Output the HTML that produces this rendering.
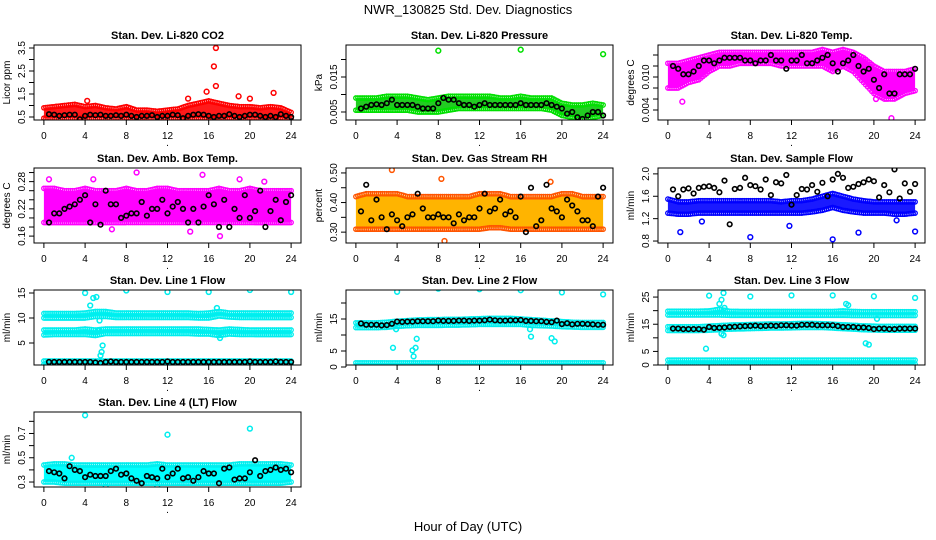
<!DOCTYPE html>
<html><head><meta charset="utf-8"><style>
html,body{margin:0;padding:0;background:#fff;}
svg{display:block;font-family:"Liberation Sans",sans-serif;}
</style></head><body>
<svg id="chart" width="936" height="540" viewBox="0 0 936 540">
<text x="468" y="14" text-anchor="middle" font-size="13">NWR_130825  Std. Dev. Diagnostics</text>
<text x="468" y="531" text-anchor="middle" font-size="13">Hour of Day (UTC)</text>
</svg>
<script>
const xTicks = [0,4,8,12,16,20,24];

const co2Lo = [0.45,0.45,0.45,0.45,0.45,0.45,0.45,0.45,0.45,0.45,0.45,0.45,0.45,0.45,0.45,0.45,0.45,0.45,0.45,0.45,0.45,0.45,0.45,0.45,0.45];
const co2Hi = [0.9,0.95,1.0,1.05,0.95,1.0,0.9,0.85,0.95,0.8,0.8,0.75,0.8,0.85,1.0,1.1,1.2,1.1,1.0,0.95,0.95,0.9,0.95,0.9,0.7];
const co2Black = [0.62,0.6,0.55,0.58,0.6,0.6,0.4,0.55,0.6,0.58,0.6,0.55,0.55,0.58,0.55,0.6,0.55,0.5,0.55,0.55,0.58,0.5,0.55,0.55,0.6,0.58,0.45,0.55,0.6,0.62,0.6,0.55,0.5,0.55,0.55,0.62,0.55,0.5,0.55,0.6,0.6,0.55,0.5,0.55,0.5,0.62,0.55,0.5];
const co2Out = [[16.5,2.7],[16.7,3.5],[16.7,1.85],[15.8,1.6],[20,1.3],[22.3,1.55],[18.9,1.4],[14,1.3],[4.2,1.2]];

const presLo = [0.0055,0.0055,0.0055,0.0055,0.0055,0.0055,0.005,0.005,0.005,0.0055,0.006,0.006,0.006,0.006,0.006,0.006,0.006,0.006,0.006,0.0055,0.004,0.0035,0.003,0.0035,0.004];
const presHi = [0.009,0.009,0.009,0.0095,0.0095,0.0095,0.009,0.0085,0.009,0.0095,0.0095,0.0095,0.0095,0.0095,0.009,0.009,0.0095,0.009,0.009,0.009,0.0075,0.007,0.007,0.0075,0.007];
const presBlack = [0.006,0.0065,0.007,0.0072,0.007,0.0075,0.0085,0.007,0.007,0.007,0.007,0.0065,0.006,0.006,0.006,0.0075,0.009,0.0085,0.0085,0.0075,0.007,0.007,0.0065,0.007,0.0075,0.007,0.007,0.007,0.007,0.007,0.007,0.0075,0.007,0.007,0.007,0.007,0.0075,0.007,0.0065,0.006,0.0045,0.005,0.0035,0.003,0.004,0.005,0.005,0.004];
const presOut = [[8,0.0225],[16,0.0228],[24,0.0215]];

const tempLo = [0.008,0.008,0.009,0.0095,0.011,0.012,0.012,0.0125,0.0125,0.0125,0.0125,0.012,0.012,0.012,0.012,0.012,0.011,0.012,0.011,0.009,0.007,0.006,0.006,0.007,0.0075];
const tempHi = [0.0125,0.0125,0.013,0.0135,0.014,0.0145,0.0145,0.0145,0.0145,0.0145,0.0145,0.0145,0.0145,0.0145,0.0145,0.015,0.0145,0.015,0.0145,0.0135,0.012,0.011,0.011,0.011,0.0115];
const tempBlack = [0.012,0.0115,0.0105,0.0105,0.011,0.012,0.013,0.013,0.0125,0.013,0.0135,0.0135,0.0135,0.0135,0.013,0.013,0.0125,0.013,0.013,0.014,0.013,0.013,0.0115,0.013,0.013,0.014,0.0125,0.0125,0.013,0.0135,0.014,0.0125,0.011,0.0125,0.013,0.014,0.012,0.011,0.0115,0.0095,0.008,0.0105,0.007,0.007,0.0105,0.0105,0.0105,0.0115];

const ambLo = [0.19,0.19,0.19,0.19,0.19,0.19,0.19,0.19,0.19,0.19,0.19,0.19,0.19,0.19,0.19,0.19,0.19,0.19,0.19,0.19,0.19,0.19,0.19,0.19,0.19];
const ambHi = [0.265,0.265,0.26,0.26,0.265,0.26,0.26,0.26,0.265,0.26,0.26,0.265,0.265,0.26,0.26,0.26,0.26,0.265,0.26,0.26,0.265,0.26,0.26,0.26,0.26];
const ambBlack = [0.19,0.21,0.21,0.22,0.225,0.23,0.24,0.25,0.19,0.23,0.185,0.26,0.23,0.23,0.2,0.205,0.21,0.21,0.235,0.205,0.22,0.22,0.24,0.21,0.225,0.235,0.22,0.19,0.22,0.19,0.225,0.25,0.23,0.18,0.24,0.18,0.22,0.2,0.25,0.2,0.215,0.26,0.18,0.215,0.24,0.195,0.235,0.25];
const ambOut = [[0.5,0.285],[4.8,0.285],[9,0.3],[15.4,0.295],[17.1,0.16],[14.2,0.17],[6.6,0.175],[19,0.285],[21.4,0.28]];

const rhLo = [0.31,0.31,0.31,0.31,0.31,0.31,0.31,0.31,0.31,0.31,0.31,0.31,0.31,0.315,0.315,0.31,0.31,0.31,0.31,0.31,0.31,0.31,0.31,0.31,0.31];
const rhHi = [0.42,0.43,0.43,0.43,0.43,0.42,0.42,0.42,0.42,0.42,0.42,0.42,0.43,0.43,0.43,0.42,0.42,0.42,0.42,0.42,0.43,0.43,0.42,0.42,0.42];
const rhBlack = [0.37,0.46,0.34,0.41,0.35,0.31,0.36,0.34,0.32,0.35,0.36,0.43,0.38,0.35,0.35,0.36,0.35,0.35,0.33,0.36,0.34,0.35,0.35,0.38,0.43,0.37,0.38,0.41,0.36,0.37,0.35,0.42,0.30,0.45,0.32,0.34,0.46,0.38,0.37,0.35,0.41,0.39,0.37,0.34,0.34,0.32,0.42,0.45];
const rhOut = [[3.5,0.51],[8.3,0.48],[8.6,0.27],[18.9,0.47]];

const flowLo = [1.3,1.28,1.28,1.3,1.3,1.3,1.3,1.3,1.3,1.3,1.3,1.3,1.3,1.3,1.32,1.35,1.4,1.35,1.32,1.3,1.3,1.3,1.28,1.28,1.3];
const flowHi = [1.55,1.5,1.5,1.52,1.52,1.52,1.52,1.52,1.52,1.52,1.52,1.5,1.52,1.52,1.55,1.6,1.65,1.6,1.55,1.52,1.5,1.5,1.5,1.5,1.5];
const flowBlack = [1.72,1.6,1.72,1.74,1.65,1.75,1.77,1.78,1.75,1.67,1.88,1.1,1.73,1.75,1.93,1.8,1.78,1.72,1.9,1.62,1.85,1.83,1.98,1.45,1.62,1.73,1.72,1.8,1.68,1.84,1.6,1.9,2.0,1.93,1.75,1.77,1.82,1.85,1.9,1.87,1.58,1.8,1.67,2.08,1.56,1.83,1.68,1.82];
const flowOut = [[1.2,0.96],[8,0.87],[16,0.83],[18.5,0.95],[24,0.97],[11.8,1.07],[3.3,1.15],[22.2,1.17]];

const l1HiLo = [10.0,10.0,10.0,10.0,10.0,10.3,10.3,10.1,10.1,10.1,10.1,10.1,10.1,10.1,10.1,10.0,10.0,10.4,10.2,10.1,10.1,10.1,10.1,10.1,10.1];
const l1HiHi = [10.9,10.9,10.9,10.9,11.0,11.3,11.3,11.0,11.0,11.0,11.0,11.0,11.0,11.0,11.0,10.9,11.0,11.3,11.0,11.0,11.0,11.0,11.0,11.0,11.0];
const l1MidLo = [6.6,6.7,6.7,6.7,6.7,6.5,6.9,6.9,6.9,6.9,6.9,6.9,6.9,6.9,6.9,6.8,6.8,6.5,6.8,6.7,6.7,6.7,6.7,6.7,6.7];
const l1MidHi = [7.6,7.6,7.6,7.6,7.8,7.6,7.8,7.8,7.8,7.8,7.8,7.8,7.8,7.8,7.8,7.8,7.7,7.6,7.8,7.7,7.6,7.6,7.6,7.6,7.6];
const l1LowLo = [0.7,0.7,0.7,0.7,0.7,0.7,0.7,0.7,0.7,0.7,0.7,0.7,0.7,0.7,0.7,0.7,0.7,0.7,0.7,0.7,0.7,0.7,0.7,0.7,0.7];
const l1LowHi = [1.4,1.4,1.4,1.4,1.4,1.4,1.4,1.4,1.4,1.4,1.4,1.4,1.4,1.4,1.4,1.4,1.4,1.4,1.4,1.4,1.4,1.4,1.4,1.4,1.4];
const l1Black = [1.2,1.2,1.2,1.2,1.2,1.2,1.2,1.2,1.2,1.1,1.0,1.2,1.3,1.2,1.2,1.2,1.2,1.2,1.2,1.2,1.2,1.2,1.2,1.3,1.2,1.2,1.2,1.2,1.2,1.2,1.2,1.2,1.2,1.2,1.2,1.2,1.2,1.2,1.2,1.3,1.2,1.2,1.2,1.2,1.3,1.2,1.2,1.2];
const l1Out = [[4,15],[8,15.5],[12,15.2],[16,15.2],[20,15.6],[24,15.2],[4.8,14],[5.1,14.2],[4.5,12.5],[5.5,2.5],[5.7,4.5],[5.6,3.2],[16.8,12],[5.3,7.5],[5.4,9.5],[17.1,6]];

const l2HiLo = [12.3,12.3,12.3,12.4,12.7,12.9,13.0,13.0,13.0,13.1,13.1,13.2,13.3,13.3,13.3,13.3,13.3,13.0,12.9,12.8,12.6,12.5,12.4,12.4,12.4];
const l2HiHi = [13.8,13.8,13.8,14.0,14.3,14.5,14.7,14.8,14.8,14.9,14.9,15.0,15.1,15.2,15.2,15.2,15.0,14.8,14.6,14.4,14.2,14.0,13.9,13.9,13.9];
const l2LowLo = [0.3,0.3,0.3,0.3,0.3,0.3,0.3,0.3,0.3,0.3,0.3,0.3,0.3,0.3,0.3,0.3,0.3,0.3,0.3,0.3,0.3,0.3,0.3,0.3,0.3];
const l2LowHi = [1.3,1.3,1.3,1.3,1.3,1.3,1.3,1.3,1.3,1.3,1.3,1.3,1.3,1.3,1.3,1.3,1.3,1.3,1.3,1.3,1.3,1.3,1.3,1.3,1.3];
const l2Black = [13.6,13.2,13.2,13.2,13.0,13.1,13.5,14.2,14.1,14.2,14.2,14.3,14.3,14.3,14.3,14.5,14.4,14.4,14.4,14.5,14.5,14.4,14.5,14.5,14.6,14.8,14.6,14.5,14.5,14.6,14.6,14.7,14.4,14.4,14.3,14.3,14.1,14.0,14.5,13.4,13.7,13.3,13.5,13.5,13.4,13.3,13.2,13.2];
const l2Out = [[4,23.5],[8,24.5],[12,24.3],[16,24],[20,23.3],[24,22.7],[3.6,6],[5.5,5.2],[5.6,3.3],[5.8,6],[5.9,8.8],[17,9.5],[19,9],[19.3,8],[3.9,11.8],[16.9,11.8]];

const l3TopLo = [18.4,18.4,18.4,18.4,18.4,18.4,18.3,18.3,18.3,18.3,18.3,18.3,18.3,18.3,18.3,18.3,18.3,18.3,18.2,18.2,18.2,18.2,18.2,18.2,18.2];
const l3TopHi = [19.8,19.8,19.8,19.8,19.9,20.5,19.8,19.7,19.7,19.7,19.7,19.7,19.7,19.7,19.7,19.7,19.7,19.9,19.7,19.6,19.6,19.6,19.6,19.6,19.6];
const l3MidLo = [12.7,12.7,12.7,12.7,12.8,13.0,13.2,13.3,13.4,13.5,13.6,13.6,13.7,13.8,13.8,13.8,13.6,13.4,13.2,13.0,12.9,12.8,12.8,12.8,12.8];
const l3MidHi = [14.1,14.1,14.1,14.1,14.3,14.5,14.7,14.8,14.9,15.0,15.1,15.1,15.2,15.3,15.3,15.2,15.0,14.8,14.6,14.4,14.3,14.2,14.2,14.2,14.2];
const l3LowLo = [0.3,0.3,0.3,0.3,0.3,0.3,0.3,0.3,0.3,0.3,0.3,0.3,0.3,0.3,0.3,0.3,0.3,0.3,0.3,0.3,0.3,0.3,0.3,0.3,0.3];
const l3LowHi = [1.8,1.8,1.8,1.8,1.8,1.8,1.8,1.8,1.8,1.8,1.8,1.8,1.8,1.8,1.8,1.8,1.8,1.8,1.8,1.8,1.8,1.8,1.8,1.8,1.8];
const l3Black = [13.4,13.4,13.2,13.2,13.2,13.2,13.0,14.0,13.6,13.7,13.8,14.0,14.1,14.2,14.3,14.4,14.5,14.3,14.4,14.5,14.4,14.6,14.6,14.5,14.5,14.8,14.8,14.8,14.6,14.6,14.6,14.6,14.3,14.0,14.0,14.0,13.8,13.8,13.6,13.2,13.4,13.4,13.2,13.2,13.4,13.4,13.4,13.4];
const l3Out = [[4,25.5],[8,25.2],[12,25.6],[16,25.6],[20,25.3],[24,24.7],[3.7,6],[5.2,24],[5.4,26.5],[5,22.5],[5.5,21],[5.2,11.5],[5.4,11],[19.2,8],[19.5,7.5],[17.3,22.5],[17.5,22],[20.3,17]];

const l4Lo = [0.3,0.3,0.29,0.29,0.29,0.29,0.29,0.29,0.29,0.29,0.29,0.29,0.29,0.29,0.29,0.29,0.29,0.29,0.29,0.29,0.29,0.29,0.29,0.29,0.3];
const l4Hi = [0.44,0.45,0.45,0.44,0.44,0.44,0.44,0.44,0.44,0.44,0.44,0.45,0.44,0.44,0.44,0.44,0.44,0.44,0.44,0.45,0.45,0.45,0.45,0.45,0.44];
const l4Black = [0.39,0.38,0.37,0.33,0.43,0.4,0.39,0.34,0.36,0.35,0.35,0.35,0.39,0.41,0.36,0.37,0.33,0.31,0.29,0.35,0.34,0.33,0.41,0.34,0.37,0.41,0.33,0.34,0.31,0.34,0.39,0.37,0.37,0.29,0.41,0.42,0.32,0.33,0.33,0.38,0.48,0.35,0.39,0.4,0.42,0.4,0.41,0.38];
const l4Out = [[4,0.85],[12,0.69],[20,0.74],[2.7,0.5],[11,0.26],[6,0.26]];

const colL = [34,346,658], colW = 267;
const rowT = [45,168,290,412], rowH = 75;
const panels = [
 {name:'co2',title:'Stan. Dev. Li-820 CO2',ylab:'Licor ppm',c:0,r:0,ymin:0.37,ymax:3.63,ticks:[0.5,1,1.5,2,2.5,3,3.5],labels:[0.5,1.5,2.5,3.5],fmt:1,
  bands:[[co2Lo,co2Hi]],black:co2Black,out:co2Out,fill:'#ff1a1a',stroke:'#ff0000'},
 {name:'pressure',title:'Stan. Dev. Li-820 Pressure',ylab:'kPa',c:1,r:0,ymin:0.00271,ymax:0.02414,ticks:[0.005,0.01,0.015,0.02],labels:[0.005,0.015],fmt:3,
  bands:[[presLo,presHi]],black:presBlack,out:presOut,fill:'#22cc22',stroke:'#00e000'},
 {name:'li820-temp',title:'Stan. Dev. Li-820 Temp.',ylab:'degrees C',c:2,r:0,ymin:0.00218,ymax:0.01582,ticks:[0.004,0.006,0.008,0.01,0.012,0.014],labels:[0.004,0.01],fmt:3,
  bands:[[tempLo,tempHi]],black:tempBlack,out:[[21.7,0.0025],[1.4,0.0055],[20.2,0.006]],fill:'#ff00ff',stroke:'#ff00ff'},
 {name:'amb-box-temp',title:'Stan. Dev. Amb. Box Temp.',ylab:'degrees C',c:0,r:1,ymin:0.1448,ymax:0.31,ticks:[0.16,0.18,0.2,0.22,0.24,0.26,0.28,0.3],labels:[0.16,0.22,0.28],fmt:2,
  bands:[[ambLo,ambHi]],black:ambBlack,out:ambOut,fill:'#ff00ff',stroke:'#ff00ff'},
 {name:'gas-stream-rh',title:'Stan. Dev. Gas Stream RH',ylab:'percent',c:1,r:1,ymin:0.2633,ymax:0.5167,ticks:[0.3,0.35,0.4,0.45,0.5],labels:[0.3,0.4,0.5],fmt:2,
  bands:[[rhLo,rhHi]],black:rhBlack,out:rhOut,fill:'#ffb400',stroke:'#ff5500'},
 {name:'sample-flow',title:'Stan. Dev. Sample Flow',ylab:'ml/min',c:2,r:1,ymin:0.765,ymax:2.105,ticks:[0.8,1.2,1.6,2.0],labels:[0.8,1.2,1.6,2.0],fmt:1,
  bands:[[flowLo,flowHi]],black:flowBlack,out:flowOut,fill:'#1a1aff',stroke:'#0000ff'},
 {name:'line1-flow',title:'Stan. Dev. Line 1 Flow',ylab:'ml/min',c:0,r:2,ymin:0.6,ymax:15.6,ticks:[5,10,15],labels:[5,10,15],fmt:0,
  bands:[[l1HiLo,l1HiHi],[l1MidLo,l1MidHi],[l1LowLo,l1LowHi]],black:l1Black,out:l1Out,fill:'#00ffff',stroke:'#00eeee'},
 {name:'line2-flow',title:'Stan. Dev. Line 2 Flow',ylab:'ml/min',c:1,r:2,ymin:0.625,ymax:24.06,ticks:[0,5,10,15,20],labels:[0,5,15],fmt:0,
  bands:[[l2HiLo,l2HiHi],[l2LowLo,l2LowHi]],black:l2Black,out:l2Out,fill:'#00ffff',stroke:'#00eeee'},
 {name:'line3-flow',title:'Stan. Dev. Line 3 Flow',ylab:'ml/min',c:2,r:2,ymin:0,ymax:27.6,ticks:[0,5,10,15,20,25],labels:[0,5,15,25],fmt:0,
  bands:[[l3TopLo,l3TopHi],[l3MidLo,l3MidHi],[l3LowLo,l3LowHi]],black:l3Black,out:l3Out,fill:'#00ffff',stroke:'#00eeee'},
 {name:'line4-flow',title:'Stan. Dev. Line 4 (LT) Flow',ylab:'ml/min',c:0,r:3,ymin:0.259,ymax:0.877,ticks:[0.3,0.4,0.5,0.6,0.7,0.8],labels:[0.3,0.5,0.7],fmt:1,
  bands:[[l4Lo,l4Hi]],black:l4Black,out:l4Out,fill:'#00ffff',stroke:'#00eeee'}
];

const NS='http://www.w3.org/2000/svg';
const svg=document.getElementById('chart');
function mk(tag,attrs,parent){const e=document.createElementNS(NS,tag);for(const k in attrs)e.setAttribute(k,attrs[k]);(parent||svg).appendChild(e);return e;}
function circ(x,y,r){return `M${(x-r).toFixed(1)},${y.toFixed(1)}a${r},${r} 0 1,0 ${2*r},0a${r},${r} 0 1,0 ${-2*r},0`;}
function interp(arr,t){const i=Math.min(Math.floor(t),arr.length-2);const f=t-i;return arr[i]*(1-f)+arr[i+1]*f;}

panels.forEach(p=>{
  const L=colL[p.c], T=rowT[p.r], R=L+colW, B=T+rowH;
  const xs=t=>L+(t+0.96)/25.92*colW;
  const ys=v=>B-(v-p.ymin)/(p.ymax-p.ymin)*rowH;
  const g=mk('g',{});
  
  
  const cp=mk('clipPath',{id:'cp-'+p.name},g);
  mk('rect',{x:L,y:T,width:colW,height:rowH},cp);
  const plot=mk('g',{'clip-path':'url(#cp-'+p.name+')'},g);
  p.bands.forEach((b,bi)=>{
    const lo=b[0],hi=b[1];
    let pts=[];
    for(let t=0;t<=24.001;t+=0.25)pts.push(xs(t).toFixed(1)+','+ys(interp(hi,t)).toFixed(1));
    for(let t=24;t>=-0.001;t-=0.25)pts.push(xs(t).toFixed(1)+','+ys(interp(lo,t)).toFixed(1));
    const poly=mk('polygon',{points:pts.join(' '),fill:p.fill},plot);
    
    
    let d='';
    for(let t=0;t<=24.001;t+=0.2){
      const yl=ys(interp(lo,t)), yh=ys(interp(hi,t));
      d+=circ(xs(t),yl,2.2)+circ(xs(t),yh,2.2);
    }
    const pa=mk('path',{d:d,fill:'none',stroke:p.stroke,'stroke-width':1.3},plot);
    
    
  });
  let od='';
  p.out.forEach(o=>{od+=circ(xs(o[0]),ys(o[1]),2.4);});
  const op=mk('path',{d:od,fill:'none',stroke:p.stroke,'stroke-width':1.5},plot);
  
  
  let bd='';
  p.black.forEach((v,i)=>{bd+=circ(xs(0.5*(i+1)),ys(v),2.3);});
  const bp=mk('path',{d:bd,fill:'none',stroke:'#000','stroke-width':1.6},plot);
  
  
  mk('rect',{x:L,y:T,width:colW,height:rowH,fill:'none',stroke:'#000','stroke-width':1},g);
  const tt=mk('text',{x:(L+R)/2,y:T-6,'text-anchor':'middle','font-size':11,'font-weight':'bold'},g);
  tt.textContent=p.title;
  
  
  mk('line',{x1:xs(0),x2:xs(24),y1:B,y2:B,stroke:'#000'},g);
  xTicks.forEach(t=>{
    mk('line',{x1:xs(t),x2:xs(t),y1:B,y2:B+5,stroke:'#000'},g);
    const lt=mk('text',{x:xs(t),y:B+19,'text-anchor':'middle','font-size':10},g);
    lt.textContent=t;
    
    
  });
  const dot=mk('text',{x:(L+R)/2,y:B+26,'text-anchor':'middle','font-size':10},g);
  dot.textContent='.';
  mk('line',{x1:L,x2:L,y1:ys(p.ticks[0]),y2:ys(p.ticks[p.ticks.length-1]),stroke:'#000'},g);
  p.ticks.forEach(v=>{mk('line',{x1:L-5,x2:L,y1:ys(v),y2:ys(v),stroke:'#000'},g);});
  p.labels.forEach(v=>{
    const yl=mk('text',{x:L-9,y:ys(v),'text-anchor':'middle','font-size':10,transform:`rotate(-90 ${L-9} ${ys(v)})`},g);
    yl.textContent=v.toFixed(p.fmt);
    
    
  });
  const yt=mk('text',{x:L-24,y:(T+B)/2,'text-anchor':'middle','font-size':10,transform:`rotate(-90 ${L-24} ${(T+B)/2})`},g);
  yt.textContent=p.ylab;
  
  
});
</script>
</body></html>
